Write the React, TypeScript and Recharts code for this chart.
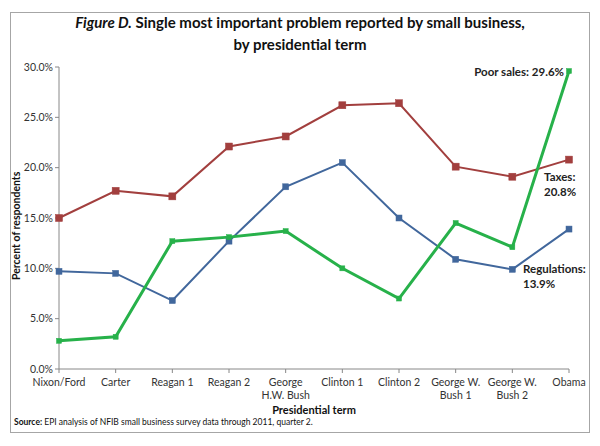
import { CartesianGrid, Line, LineChart, XAxis, YAxis } from "recharts";

// values (percent of respondents)
const terms = [
  "Nixon/Ford",
  "Carter",
  "Reagan 1",
  "Reagan 2",
  "George H.W. Bush",
  "Clinton 1",
  "Clinton 2",
  "George W. Bush 1",
  "George W. Bush 2",
  "Obama",
];
const taxes = [15.0, 17.7, 17.15, 22.1, 23.1, 26.2, 26.4, 20.1, 19.1, 20.8];
const regulations = [9.7, 9.5, 6.8, 12.7, 18.1, 20.5, 15.0, 10.9, 9.9, 13.9];
const poorSales = [2.8, 3.2, 12.7, 13.1, 13.7, 10.0, 7.0, 14.5, 12.1, 29.6];
const yTicks = [0, 5, 10, 15, 20, 25, 30];

// label text wrapping for the category axis
const tickLines: Record<string, string[]> = {
  "George H.W. Bush": ["George", "H.W. Bush"],
  "George W. Bush 1": ["George W.", "Bush 1"],
  "George W. Bush 2": ["George W.", "Bush 2"],
};

const data = terms.map((term, i) => ({
  term,
  taxes: taxes[i],
  regulations: regulations[i],
  poorSales: poorSales[i],
}));

const FONT = "Lato, 'Open Sans', sans-serif";
const RED = "#A23F3E";
const BLUE = "#41679C";
const GREEN = "#27B14A";

const XTick = ({ x, y, payload }: any) => {
  const lines = tickLines[payload.value] ?? [payload.value];
  return (
    <text x={x} y={y + 11} textAnchor="middle" fontSize={10.5} fill="#333" fontFamily={FONT}>
      {lines.map((l, i) => (
        <tspan key={i} x={x} dy={i === 0 ? 0 : 13}>
          {l}
        </tspan>
      ))}
    </text>
  );
};

const squareDot = (color: string, size: number) => (props: any) => {
  const { cx, cy, index } = props;
  if (cx == null || cy == null) return <g key={index} />;
  return (
    <rect
      key={index}
      x={cx - size / 2}
      y={cy - size / 2}
      width={size}
      height={size}
      fill={color}
      stroke={color}
      strokeWidth={0.5}
    />
  );
};

const endLabel = (lines: string[], dx: number, dy: number, anchor: string) => (props: any) => {
  const { x, y, index } = props;
  if (index !== terms.length - 1) return <g key={index} />;
  return (
    <text
      key={index}
      x={x + dx}
      y={y + dy}
      textAnchor={anchor as any}
      fontSize={11.5}
      fontWeight="bold"
      fill="#222"
      fontFamily={FONT}
    >
      {lines.map((l, i) => (
        <tspan key={i} x={x + dx} dy={i === 0 ? 0 : 15}>
          {l}
        </tspan>
      ))}
    </text>
  );
};

export default function App() {
  return (
    <div
      style={{
        position: "absolute",
        left: 0,
        top: 0,
        width: 600,
        height: 446,
        background: "#fff",
        fontFamily: FONT,
      }}
    >
      <div
        style={{
          position: "absolute",
          left: 10,
          top: 12,
          width: 578,
          height: 419,
          border: "1px solid #a6a6a6",
        }}
      />
      <div
        style={{
          position: "absolute",
          left: 0,
          top: 11,
          width: 600,
          textAlign: "center",
          fontSize: 15,
          fontWeight: "bold",
          lineHeight: "22px",
          color: "#111",
        }}
      >
        <i>Figure D.</i> Single most important problem reported by small business,
        <br />
        by presidential term
      </div>
      <div style={{ position: "absolute", left: 0, top: 0 }}>
        <LineChart
          width={600}
          height={446}
          data={data}
          margin={{ top: 67, right: 31, bottom: 47, left: 9 }}
        >
          <CartesianGrid stroke="none" />
          <XAxis
            dataKey="term"
            interval={0}
            tick={<XTick />}
            tickLine={{ stroke: "#888" }}
            tickSize={4}
            axisLine={{ stroke: "#888" }}
            height={30}
          />
          <YAxis
            domain={[0, 30]}
            ticks={yTicks}
            tickFormatter={(v) => `${v.toFixed(1)}%`}
            tick={{ fontSize: 10.5, fill: "#333", fontFamily: FONT }}
            tickLine={{ stroke: "#888" }}
            tickSize={4}
            axisLine={{ stroke: "#888" }}
            width={50}
            label={{
              value: "Percent of respondents",
              angle: -90,
              position: "insideLeft",
              dx: 2,
              dy: 62,
              style: { fontSize: 10.5, fontWeight: "bold", fill: "#111", fontFamily: FONT },
            }}
          />
          <Line
            dataKey="taxes"
            stroke={RED}
            strokeWidth={2}
            dot={squareDot(RED, 7)}
            label={endLabel(["Taxes:", "20.8%"], -25, 21, "start")}
            isAnimationActive={false}
          />
          <Line
            dataKey="regulations"
            stroke={BLUE}
            strokeWidth={2}
            dot={squareDot(BLUE, 6)}
            label={endLabel(["Regulations:", "13.9%"], -46, 44, "start")}
            isAnimationActive={false}
          />
          <Line
            dataKey="poorSales"
            stroke={GREEN}
            strokeWidth={3}
            dot={squareDot(GREEN, 5)}
            label={endLabel(["Poor sales: 29.6%"], -5, 5, "end")}
            isAnimationActive={false}
          />
        </LineChart>
      </div>
      <div
        style={{
          position: "absolute",
          left: 0,
          top: 403,
          width: 628,
          textAlign: "center",
          fontSize: 11,
          fontWeight: "bold",
          color: "#111",
        }}
      >
        Presidential term
      </div>
      <div
        style={{
          position: "absolute",
          left: 14,
          top: 417,
          fontSize: 8.5,
          color: "#111",
        }}
      >
        <b>Source:</b> EPI analysis of NFIB small business survey data through 2011, quarter 2.
      </div>
    </div>
  );
}
